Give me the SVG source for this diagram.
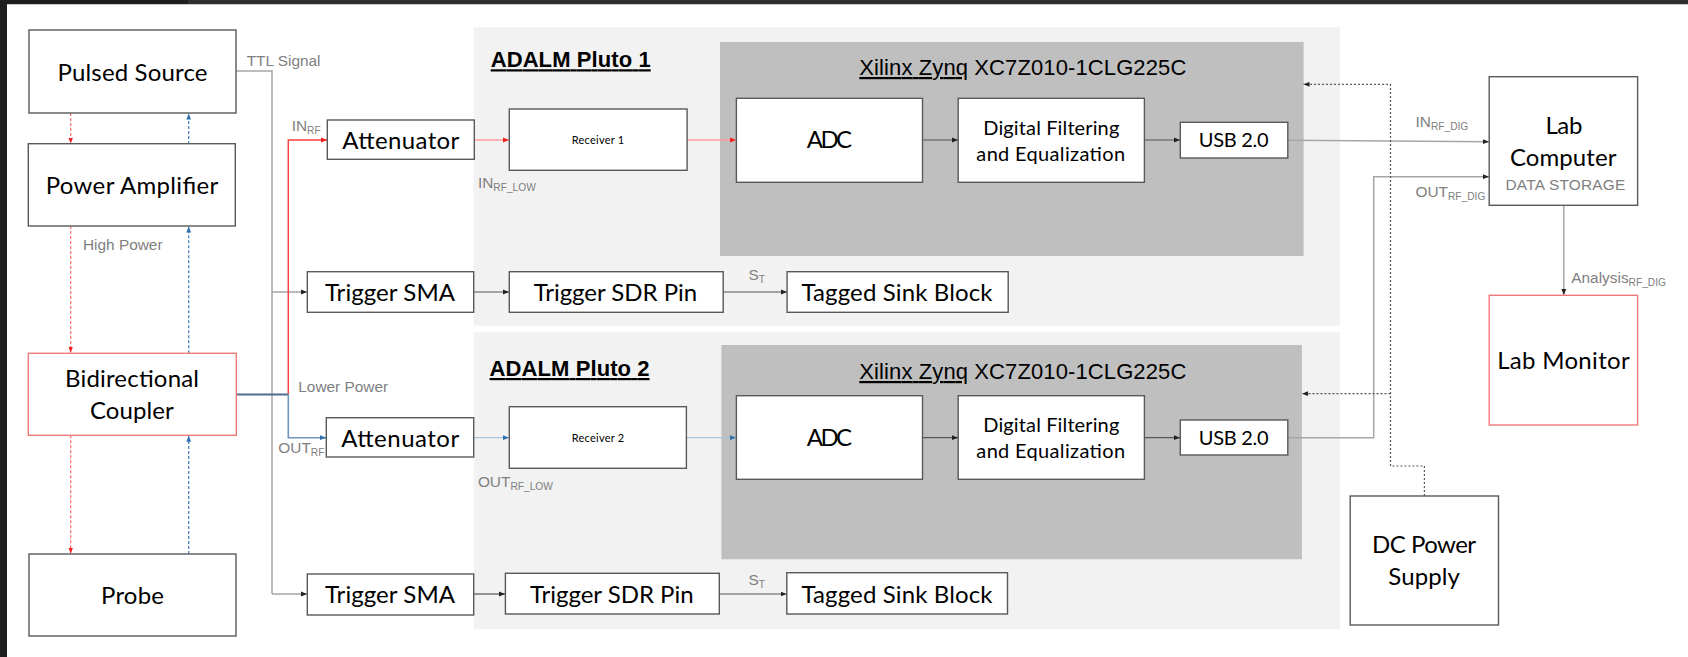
<svg xmlns="http://www.w3.org/2000/svg" width="1688" height="657" viewBox="0 0 1688 657">
<style>
.box{fill:#fff;stroke:#595959;stroke-width:1.4}
.rbox{fill:#fff;stroke:#f07a7a;stroke-width:1.4}
.t{font-family:Lato,"Noto Sans",sans-serif;font-size:24px;fill:#000;text-anchor:middle}
.ts{font-family:Lato,"Noto Sans",sans-serif;font-size:11px;fill:#000;text-anchor:middle}
.tm{font-family:Lato,"Noto Sans",sans-serif;font-size:20px;fill:#000;text-anchor:middle}
.g{font-family:"Liberation Sans",Arial,sans-serif;font-size:15.4px;fill:#808080}
.sub{font-size:10.2px}
.h{font-family:"Liberation Sans",Arial,sans-serif;font-size:22px;font-weight:bold;fill:#000}
.x{font-family:"Liberation Sans",Arial,sans-serif;font-size:22px;fill:#000}
.k{fill:none;stroke:#555;stroke-width:1.2}
.gr{fill:none;stroke:#a6a6a6;stroke-width:1.5}
.rd{fill:none;stroke:#ff4040;stroke-width:1.5}
.rl{fill:none;stroke:#ff9c9c;stroke-width:1.3}
.bl{fill:none;stroke:#6f96bd;stroke-width:1.6}
.bll{fill:none;stroke:#a9c3dc;stroke-width:1.3}
.rdd{fill:none;stroke:#ff6b6b;stroke-width:1.2;stroke-dasharray:3 2}
.bld{fill:none;stroke:#3e7bb6;stroke-width:1.2;stroke-dasharray:3 2}
.dot{fill:none;stroke:#555;stroke-width:1.2;stroke-dasharray:2 2}
</style>
<defs>
<marker id="ak" viewBox="0 0 10 10" refX="10" refY="5" markerWidth="6" markerHeight="6" orient="auto" markerUnits="userSpaceOnUse"><path d="M0,1 L10,5 L0,9 z" fill="#222"/></marker>
<marker id="ar" viewBox="0 0 10 10" refX="10" refY="5" markerWidth="6" markerHeight="6" orient="auto" markerUnits="userSpaceOnUse"><path d="M0,1 L10,5 L0,9 z" fill="#f02020"/></marker>
<marker id="ab" viewBox="0 0 10 10" refX="10" refY="5" markerWidth="6" markerHeight="6" orient="auto" markerUnits="userSpaceOnUse"><path d="M0,1 L10,5 L0,9 z" fill="#2f6fae"/></marker>
</defs>
<rect x="0" y="0" width="1688" height="657" fill="#fff"/>
<rect x="0" y="0" width="1688" height="4" fill="#2e2e2e"/>
<rect x="0" y="0" width="188" height="4" fill="#1e1e1e"/>
<rect x="7" y="4" width="1681" height="1" fill="#c8c8c8"/>
<rect x="0" y="0" width="7" height="657" fill="#1e1e1e"/>

<g id="pluto1">
<rect x="473.6" y="27.3" width="866.5" height="298.4" fill="#f2f2f2"/>
<text class="h" x="490.7" y="67.3" text-decoration="underline" textLength="160">ADALM Pluto 1</text>
</g>
<g id="pluto2">
<rect x="473.6" y="332.3" width="866.5" height="297" fill="#f2f2f2"/>
<text class="h" x="489.6" y="376" text-decoration="underline" textLength="160">ADALM Pluto 2</text>
</g>
<g id="zynq1">
<rect x="720" y="42" width="583.6" height="214" fill="#bfbfbf"/>
<text class="x" x="859.3" y="75" textLength="327"><tspan text-decoration="underline">Xilinx Zynq</tspan> XC7Z010-1CLG225C</text>
</g>
<g id="zynq2">
<rect x="721.4" y="345" width="580.5" height="214.3" fill="#bfbfbf"/>
<text class="x" x="859.3" y="379" textLength="327"><tspan text-decoration="underline">Xilinx Zynq</tspan> XC7Z010-1CLG225C</text>
</g>

<g id="connectors">
<path class="rdd" d="M70.7,113 V143.5" marker-end="url(#ar)"/>
<path class="rdd" d="M70.7,226 V352.5" marker-end="url(#ar)"/>
<path class="rdd" d="M70.7,435.3 V553.5" marker-end="url(#ar)"/>
<path class="bld" d="M188.7,144 V113.5" marker-end="url(#ab)"/>
<path class="bld" d="M188.7,353.3 V226.5" marker-end="url(#ab)"/>
<path class="bld" d="M188.7,554 V435.8" marker-end="url(#ab)"/>
<path class="gr" d="M236,71 H272 V594"/>
<path class="gr" d="M272,292 H307" marker-end="url(#ak)"/>
<path class="gr" d="M272,594 H307" marker-end="url(#ak)"/>
<path class="rd" d="M288.3,394.5 V140 H327" marker-end="url(#ar)"/>
<path fill="none" stroke="#4f6f92" stroke-width="2" d="M236.3,394.5 H288.3"/>
<path class="bl" d="M288.3,394.5 V437.7 H326" marker-end="url(#ab)"/>
<path class="rl" d="M474.3,140 H509" marker-end="url(#ar)"/>
<path class="rl" d="M687.1,140 H736" marker-end="url(#ar)"/>
<path class="bll" d="M473.7,437.7 H509" marker-end="url(#ab)"/>
<path class="bll" d="M686.4,437.7 H736" marker-end="url(#ab)"/>
<path class="k" d="M922.5,140 H958" marker-end="url(#ak)"/>
<path class="k" d="M1144.4,140 H1180" marker-end="url(#ak)"/>
<path class="k" d="M922.5,437.7 H958" marker-end="url(#ak)"/>
<path class="k" d="M1144.4,437.7 H1180" marker-end="url(#ak)"/>
<path class="k" stroke="#777" d="M473.7,292 H509" marker-end="url(#ak)"/>
<path class="k" stroke="#777" d="M723.2,292 H787" marker-end="url(#ak)"/>
<path class="k" stroke="#777" d="M473.7,594 H505" marker-end="url(#ak)"/>
<path class="k" stroke="#777" d="M719.3,594 H786.5" marker-end="url(#ak)"/>
<path class="gr" stroke="#999" d="M1287.8,140.3 L1489,141.7" marker-end="url(#ak)"/>
<path class="gr" d="M1287.8,437.7 H1373.7 V176.7 H1489" marker-end="url(#ak)"/>
<path class="gr" stroke="#999" d="M1563.8,205.3 V295" marker-end="url(#ak)"/>
<path class="dot" d="M1424.4,496 V466 H1390.5 V84.3 H1303.5" marker-end="url(#ak)"/>
<path class="dot" d="M1390.5,393.7 H1302" marker-end="url(#ak)"/>
</g>

<g id="labels">
<text class="g" x="246.7" y="65.7">TTL Signal</text>
<text class="g" x="291.7" y="130.7">IN<tspan class="sub" dy="3">RF</tspan></text>
<text class="g" x="83" y="250">High Power</text>
<text class="g" x="298.3" y="391.7">Lower Power</text>
<text class="g" x="278.3" y="453.3">OUT<tspan class="sub" dy="3">RF</tspan></text>
<text class="g" x="477.9" y="188.3">IN<tspan class="sub" dy="3">RF_LOW</tspan></text>
<text class="g" x="477.9" y="486.7">OUT<tspan class="sub" dy="3">RF_LOW</tspan></text>
<text class="g" x="748.6" y="280">S<tspan class="sub" dy="3">T</tspan></text>
<text class="g" x="748.6" y="585">S<tspan class="sub" dy="3">T</tspan></text>
<text class="g" x="1415.5" y="126.7">IN<tspan class="sub" dy="3">RF_DIG</tspan></text>
<text class="g" x="1415.5" y="197.3">OUT<tspan class="sub" dy="3">RF_DIG</tspan></text>
<text class="g" x="1571.3" y="283.3">Analysis<tspan class="sub" dy="3">RF_DIG</tspan></text>
</g>

<g id="pulsed-source"><rect class="box" x="29" y="30" width="207" height="83"/><text class="t" x="132.5" y="81" textLength="150">Pulsed Source</text></g>
<g id="power-amplifier"><rect class="box" x="28.3" y="143.7" width="207" height="82.3"/><text class="t" x="132" y="194" textLength="172.7">Power Amplifier</text></g>
<g id="coupler"><rect class="rbox" x="28.3" y="353.3" width="208" height="82"/><text class="t" x="132" y="387.3" textLength="134">Bidirectional</text><text class="t" x="131.8" y="419" textLength="83.7">Coupler</text></g>
<g id="probe"><rect class="box" x="29" y="554" width="207" height="82"/><text class="t" x="132.5" y="604" textLength="63">Probe</text></g>

<g id="attenuator1"><rect class="box" x="327.3" y="120" width="147" height="39.3"/><text class="t" x="400.8" y="149" textLength="117">Attenuator</text></g>
<g id="attenuator2"><rect class="box" x="326.3" y="417.7" width="147.4" height="39.3"/><text class="t" x="400.2" y="446.7" textLength="118">Attenuator</text></g>
<g id="trigger-sma1"><rect class="box" x="307.3" y="271.7" width="166.4" height="40.6"/><text class="t" x="390" y="300.7" textLength="130">Trigger SMA</text></g>
<g id="trigger-sma2"><rect class="box" x="307.3" y="574" width="166.4" height="41"/><text class="t" x="390" y="602.7" textLength="130">Trigger SMA</text></g>

<g id="receiver1"><rect class="box" x="509.3" y="109" width="177.8" height="61.3"/><text class="ts" x="598" y="144" textLength="52.5">Receiver 1</text></g>
<g id="receiver2"><rect class="box" x="509.3" y="406.7" width="177.1" height="61.6"/><text class="ts" x="598" y="442" textLength="52.5">Receiver 2</text></g>
<g id="adc1"><rect class="box" x="736.4" y="98.3" width="186.1" height="84"/><text class="t" x="829.5" y="148.3" textLength="45.3">ADC</text></g>
<g id="adc2"><rect class="box" x="736.4" y="395.7" width="186.1" height="83.6"/><text class="t" x="829.5" y="446" textLength="45.3">ADC</text></g>
<g id="dsp1"><rect class="box" x="958.2" y="98.3" width="186.2" height="84"/><text class="tm" x="1051.3" y="134.5" textLength="136">Digital Filtering</text><text class="tm" x="1050.7" y="161" textLength="148.7">and Equalization</text></g>
<g id="dsp2"><rect class="box" x="958.2" y="395.7" width="186.2" height="83.6"/><text class="tm" x="1051.3" y="431.7" textLength="136">Digital Filtering</text><text class="tm" x="1050.7" y="457.7" textLength="148.7">and Equalization</text></g>
<g id="usb1"><rect class="box" x="1180.3" y="122.3" width="107.5" height="35.7"/><text class="tm" x="1233.7" y="147.3" textLength="69.7">USB 2.0</text></g>
<g id="usb2"><rect class="box" x="1180.3" y="420" width="107.5" height="35"/><text class="tm" x="1233.7" y="445" textLength="69.7">USB 2.0</text></g>
<g id="trigger-sdr1"><rect class="box" x="509.3" y="271.7" width="213.9" height="40.6"/><text class="t" x="615.4" y="301" textLength="163.5">Trigger SDR Pin</text></g>
<g id="trigger-sdr2"><rect class="box" x="505.4" y="573.3" width="213.9" height="40.7"/><text class="t" x="611.8" y="602.7" textLength="163.5">Trigger SDR Pin</text></g>
<g id="tagged-sink1"><rect class="box" x="787.1" y="271.7" width="221.1" height="40.6"/><text class="t" x="897" y="301" textLength="191">Tagged Sink Block</text></g>
<g id="tagged-sink2"><rect class="box" x="786.8" y="572.7" width="220.7" height="41.3"/><text class="t" x="897" y="602.7" textLength="191">Tagged Sink Block</text></g>

<g id="lab-computer"><rect class="box" x="1489.2" y="76.7" width="148.4" height="128.6"/><text class="t" x="1563.9" y="134" textLength="37">Lab</text><text class="t" x="1563.2" y="165.7" textLength="106.6">Computer</text><text class="g" x="1565.4" y="190" text-anchor="middle" textLength="119.8">DATA STORAGE</text></g>
<g id="lab-monitor"><rect class="rbox" x="1489.2" y="295.3" width="148.4" height="129.7"/><text class="t" x="1563.4" y="369.3" textLength="132.5">Lab Monitor</text></g>
<g id="dc-power"><rect class="box" x="1350.2" y="496" width="148.3" height="129"/><text class="t" x="1424.1" y="553.3" textLength="104">DC Power</text><text class="t" x="1424.1" y="585" textLength="71.6">Supply</text></g>
</svg>
